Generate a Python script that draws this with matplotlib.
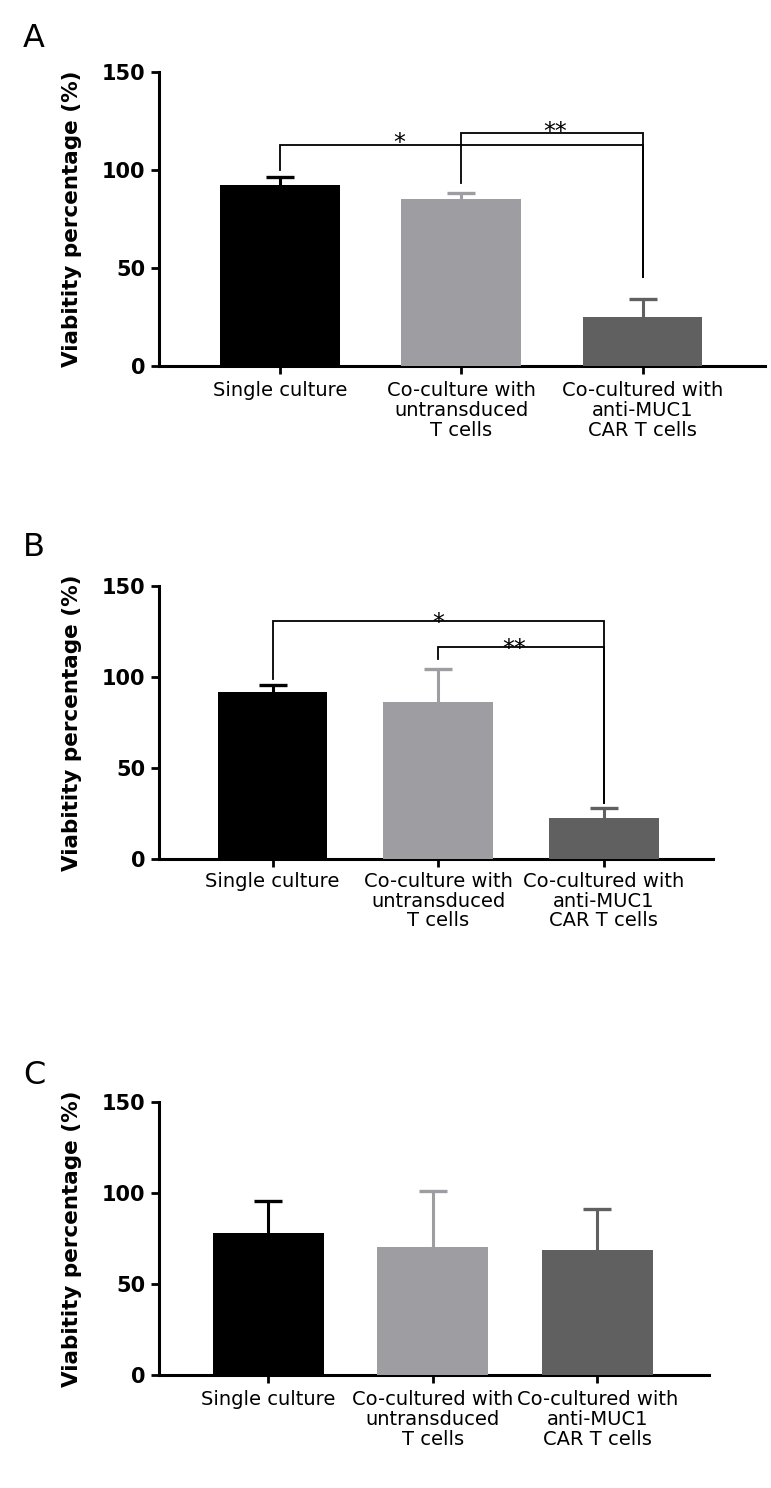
import matplotlib
matplotlib.use("Agg")
import matplotlib.pyplot as plt
import matplotlib.transforms as mtransforms

plt.rcParams['font.family'] = ['DejaVu Sans']

# ---------------- data ----------------
categories_A = ["Single culture", "Co-culture with\nuntransduced\nT cells",
                "Co-cultured with\nanti-MUC1\nCAR T cells"]
categories_B = ["Single culture", "Co-culture with\nuntransduced\nT cells",
                "Co-cultured with\nanti-MUC1\nCAR T cells"]
categories_C = ["Single culture", "Co-cultured with\nuntransduced\nT cells",
                "Co-cultured with\nanti-MUC1\nCAR T cells"]

means_A = [92.3, 85.0, 24.8]
sem_A = [3.9, 3.4, 9.4]
means_B = [91.9, 86.4, 22.5]
sem_B = [3.8, 18.2, 5.5]
means_C = [78.2, 70.5, 68.7]
sem_C = [17.3, 30.7, 22.4]

y_ticks = [0, 50, 100, 150]
y_label = "Viabitity percentage (%)"
panel_letters = ["A", "B", "C"]

# significance brackets: (left group, right group, bracket height, left leg end, right leg end, text, text x)
brackets_A = [(0, 2, 112.8, 100.0, 45.6, "*", 0.66),
              (1, 2, 118.7, 93.5, 45.6, "**", 1.52)]
brackets_B = [(0, 2, 130.6, 99.0, 30.9, "*", 1.0),
              (1, 2, 116.6, 109.8, 30.9, "**", 1.46)]
brackets_C = []

# ---------------- style ----------------
bar_colors = ["#000000", "#9e9ea2", "#606060"]

W, H = 771, 1488
fig = plt.figure(figsize=(W / 100, H / 100), dpi=100)

def px_axes(left, right, top, bottom):
    return [left / W, 1 - bottom / H, (right - left) / W, (bottom - top) / H]

panels = [
    dict(rect=px_axes(159, 765, 72, 366), xlim=(-0.667, 2.675), bw=0.66,
         cats=categories_A, means=means_A, sem=sem_A, br=brackets_A,
         star_off=-4.0, letter_y=23.3, label_pad=5),
    dict(rect=px_axes(159, 713, 585.7, 859.3), xlim=(-0.686, 2.66), bw=0.663,
         cats=categories_B, means=means_B, sem=sem_B, br=brackets_B,
         star_off=-6.5, letter_y=531.7, label_pad=3),
    dict(rect=px_axes(159, 709, 1102.3, 1375), xlim=(-0.665, 2.68), bw=0.677,
         cats=categories_C, means=means_C, sem=sem_C, br=brackets_C,
         star_off=-6.0, letter_y=1060, label_pad=5),
]

for p, letter in zip(panels, panel_letters):
    ax = fig.add_axes(p["rect"])
    x = list(range(len(p["means"])))
    ax.bar(x, p["means"], width=p["bw"], color=bar_colors, zorder=3)
    for xi, m, e, c in zip(x, p["means"], p["sem"], bar_colors):
        _, caps, _ = ax.errorbar([xi], [m], yerr=[[0], [e]], fmt="none", ecolor=c,
                                 elinewidth=2.2, capsize=10, capthick=2.4, zorder=2)
        # hide the cap sitting on the bar top (one-sided error bar)
        for cap in caps:
            yd = cap.get_ydata()
            if len(yd) and abs(float(yd[0]) - m) < 1e-9:
                cap.set_visible(False)
    ax.set_xlim(*p["xlim"])
    ax.set_ylim(0, 150)
    ax.set_yticks(y_ticks)
    ax.set_yticklabels([str(t) for t in y_ticks], fontsize=15, fontweight="bold")
    ax.set_xticks(x)
    ax.set_xticklabels(p["cats"], fontsize=14, linespacing=1.05)
    ax.tick_params(axis="both", direction="out", length=6, width=2, colors="black")
    ax.tick_params(axis="y", pad=4)
    ax.tick_params(axis="x", pad=p["label_pad"])
    for s in ["top", "right"]:
        ax.spines[s].set_visible(False)
    for s in ["left", "bottom"]:
        ax.spines[s].set_linewidth(2.2)

    trans = mtransforms.offset_copy(ax.transData, fig=fig, x=0, y=p["star_off"], units="points")
    for (g1, g2, yb, y1, y2, txt, tx) in p["br"]:
        ax.plot([g1, g1, g2, g2], [y1, yb, yb, y2], color="black", lw=1.3,
                clip_on=False, zorder=4, solid_joinstyle="miter")
        ax.text(tx, yb, txt, ha="center", va="baseline", fontsize=17,
                transform=trans, zorder=5)

    rect = p["rect"]
    fig.text(72 / W, rect[1] + rect[3] / 2, y_label, rotation=90,
             ha="center", va="center", fontsize=15.5, fontweight="bold")
    fig.text(23 / W, 1 - p["letter_y"] / H, letter, ha="left", va="top", fontsize=23)

fig.savefig("out.png", dpi=100)
